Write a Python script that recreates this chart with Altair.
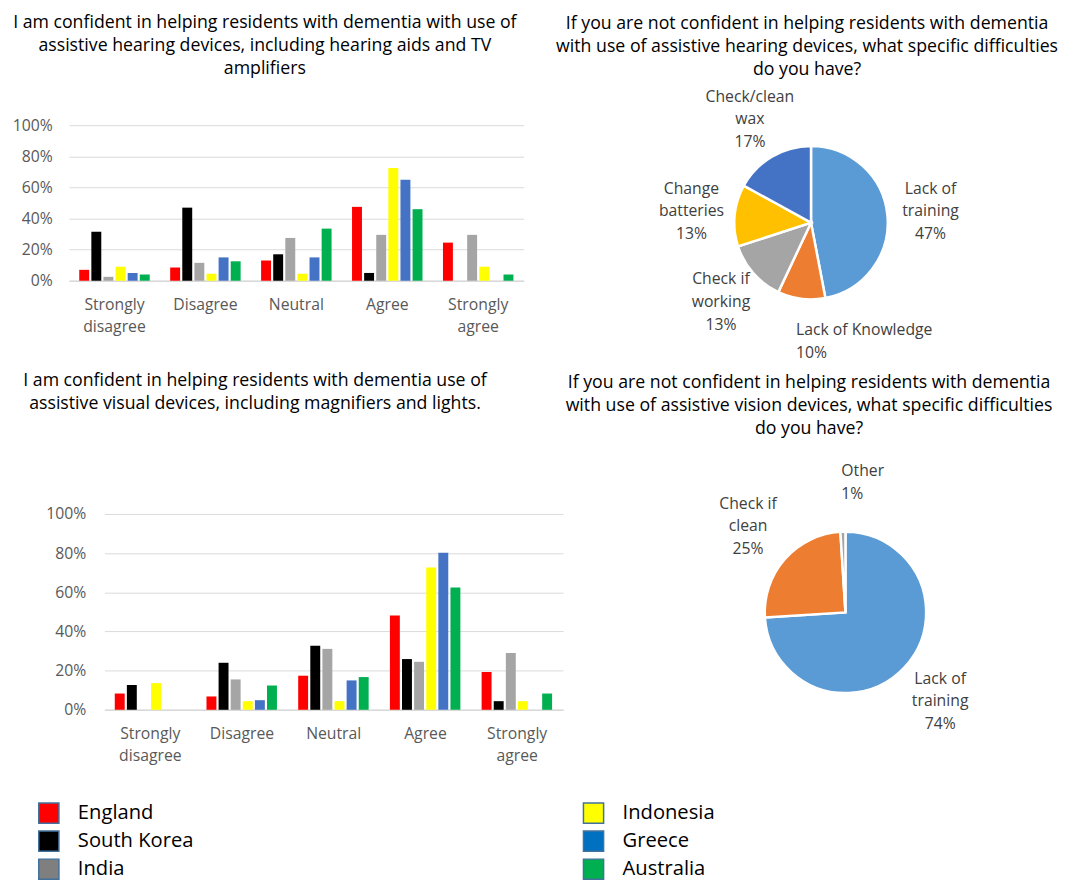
import math
import altair as alt
import pandas as pd

FONT = "Open Sans"

categories = ["Strongly disagree", "Disagree", "Neutral", "Agree", "Strongly agree"]
countries = ["England", "South Korea", "India", "Indonesia", "Greece", "Australia"]
country_colors = ["#FF0000", "#000000", "#A5A5A5", "#FFFF00", "#4472C4", "#00B050"]
legend_colors = ["#FF0000", "#000000", "#7F7F7F", "#FFFF00", "#0070C0", "#00B050"]

# Hearing devices (% of respondents per answer)
hearing_england = [7, 8.5, 13, 47.5, 24.5]
hearing_south_korea = [31.5, 47, 17, 5, 0]
hearing_india = [2.5, 11.5, 27.5, 29.5, 29.5]
hearing_indonesia = [9, 4.5, 4.5, 72.5, 9]
hearing_greece = [5, 15, 15, 65, 0]
hearing_australia = [4, 12.5, 33.5, 46, 4]

# Visual devices (% of respondents per answer)
vision_england = [8.3, 6.8, 17.4, 48.2, 19.3]
vision_south_korea = [12.6, 24, 32.7, 25.9, 4.4]
vision_india = [0, 15.5, 31.1, 24.5, 29]
vision_indonesia = [13.6, 4.4, 4.4, 72.7, 4.4]
vision_greece = [0, 4.9, 15, 80.2, 0]
vision_australia = [0, 12.4, 16.7, 62.5, 8.3]

hearing_issue_names = ["Lack of\ntraining", "Lack of Knowledge", "Check if\nworking",
                       "Change\nbatteries", "Check/clean\nwax"]
hearing_issue_pct = [47, 10, 13, 13, 17]
hearing_issue_colors = ["#5B9BD5", "#ED7D31", "#A5A5A5", "#FFC000", "#4472C4"]

vision_issue_names = ["Lack of\ntraining", "Check if\nclean", "Other"]
vision_issue_pct = [74, 25, 1]
vision_issue_colors = ["#5B9BD5", "#ED7D31", "#A5A5A5"]

title_hearing = ["I am confident in helping residents with dementia with use of",
                 "assistive hearing devices, including hearing aids and TV",
                 "amplifiers"]
title_hearing_q = ["If you are not confident in helping residents with dementia",
                   "with use of assistive hearing devices, what specific difficulties",
                   "do you have?"]
title_vision = ["I am confident in helping residents with dementia use of",
                "assistive visual devices, including magnifiers and lights."]
title_vision_q = ["If you are not confident in helping residents with dementia",
                  "with use of assistive vision devices, what specific difficulties",
                  "do you have?"]


def bar_long(series_list):
    rows = []
    for country, vals in zip(countries, series_list):
        for cat, v in zip(categories, vals):
            rows.append({"category": cat, "country": country, "value": v / 100.0})
    return pd.DataFrame(rows)


hearing_df = bar_long([hearing_england, hearing_south_korea, hearing_india,
                       hearing_indonesia, hearing_greece, hearing_australia])
vision_df = bar_long([vision_england, vision_south_korea, vision_india,
                      vision_indonesia, vision_greece, vision_australia])


def title_params(lines, dx, offset):
    return alt.TitleParams(text=lines, font=FONT, fontSize=18, fontWeight="normal",
                           color="#000000", lineHeight=23.5, anchor="middle",
                           frame="group", dx=dx, offset=offset)


def bar_chart(df, lines, width, height, dx, offset, inset=0, label_pad=17):
    xscale = alt.Scale(paddingInner=0.225, paddingOuter=0.1125)
    if inset:
        xscale = alt.Scale(paddingInner=0.225, paddingOuter=0.1125, range=[inset, width])
    yaxis = dict(format=".0%", values=[0, 0.2, 0.4, 0.6, 0.8, 1.0], title=None,
                 domain=False, ticks=False, gridColor="#D9D9D9",
                 labelFontSize=16, labelColor="#595959", labelFont=FONT,
                 labelPadding=label_pad)
    if inset:
        yaxis["offset"] = -inset
    return alt.Chart(df).mark_bar().encode(
        x=alt.X("category:N", sort=categories, scale=xscale,
                axis=alt.Axis(title=None, labelAngle=0, labelExpr="split(datum.label, ' ')",
                              labelFontSize=16, labelColor="#595959", labelFont=FONT,
                              labelLineHeight=23, labelPadding=16, ticks=False,
                              domainColor="#D9D9D9", domainWidth=1.5)),
        xOffset=alt.XOffset("country:N", sort=countries,
                            scale=alt.Scale(paddingInner=0.18, paddingOuter=0)),
        y=alt.Y("value:Q", scale=alt.Scale(domain=[0, 1]), axis=alt.Axis(**yaxis)),
        color=alt.Color("country:N", scale=alt.Scale(domain=countries, range=country_colors),
                        legend=None),
    ).properties(width=width, height=height, title=title_params(lines, dx, offset))


def pie_chart(names, pcts, colors, lines, width, height, radius, label_radius, dx, offset):
    df = pd.DataFrame({"name": names, "pct": pcts, "idx": list(range(len(names)))})
    tscale = alt.Scale(domain=[0, 100], range=[0, 2 * math.pi])
    base = alt.Chart(df).transform_window(
        end="sum(pct)", sort=[alt.SortField("idx")], frame=[None, 0]
    ).transform_calculate(
        start="datum.end - datum.pct",
        mid="datum.end - datum.pct / 2",
        label="datum.name + '\\n' + datum.pct + '%'",
        nlines="length(split(datum.name, '\\n')) + 1",
    )
    arcs = base.mark_arc(radius=radius, stroke="white", strokeWidth=2.5).encode(
        theta=alt.Theta("start:Q", scale=tscale),
        theta2="end:Q",
        color=alt.Color("name:N", scale=alt.Scale(domain=names, range=colors), legend=None),
    )
    layers = [arcs]
    for n, align in ((2, "left"), (3, "center")):
        layers.append(
            base.transform_filter(f"datum.nlines == {n}").mark_text(
                radius=label_radius, font=FONT, fontSize=16, color="#404040",
                lineBreak="\n", lineHeight=23, align=align, baseline="middle",
                dy=-(n - 1) * 23 / 2,
            ).encode(theta=alt.Theta("mid:Q", scale=tscale), text="label:N")
        )
    return alt.layer(*layers).properties(width=width, height=height,
                                         title=title_params(lines, dx, offset))


bar1 = bar_chart(hearing_df, title_hearing, 462, 158, -32, 40)
pie1 = pie_chart(hearing_issue_names, hearing_issue_pct, hearing_issue_colors, title_hearing_q,
                 300, 198, 78, 122, -4, 10)
bar2 = bar_chart(vision_df, title_vision, 502, 199, -62, 95, inset=36, label_pad=19)
pie2 = pie_chart(vision_issue_names, vision_issue_pct, vision_issue_colors, title_vision_q,
                 300, 200, 82, 132, -37, 26)

legend_base = alt.Chart(pd.DataFrame({"country": countries})).transform_window(
    rn="row_number()"
).transform_calculate(
    col="floor((datum.rn - 1) / 3)", row="(datum.rn - 1) % 3"
)
lx = alt.X("col:Q", scale=alt.Scale(domain=[0, 1], range=[-20.5, 533]), axis=None)
ly = alt.Y("row:Q", scale=alt.Scale(domain=[0, 2], range=[40, 97]), axis=None)
legend_syms = legend_base.mark_square(size=420, stroke="#41719C", strokeWidth=1.5,
                                      opacity=1).encode(
    x=lx, y=ly,
    color=alt.Color("country:N", scale=alt.Scale(domain=countries, range=legend_colors),
                    legend=None),
)
legend_text = legend_base.mark_text(align="left", baseline="middle", dx=29.5, font=FONT,
                                    fontSize=20.5, color="black").encode(
    x=lx, y=ly, text="country:N"
)
legend_chart = alt.layer(legend_syms, legend_text).properties(width=900, height=98)

row1 = alt.hconcat(bar1, pie1, spacing=142, bounds="flush").resolve_scale(color="independent")
row2 = alt.hconcat(bar2, pie2, spacing=137, bounds="flush").resolve_scale(color="independent")

chart = alt.vconcat(row1, row2, legend_chart, spacing=10).resolve_scale(
    color="independent"
).properties(
    padding={"left": 4, "top": -1, "right": 0, "bottom": 0}
).configure(
    font=FONT, view=alt.ViewConfig(stroke=None)
)

chart.save("out.html", embed_options={"renderer": "svg", "actions": False})
